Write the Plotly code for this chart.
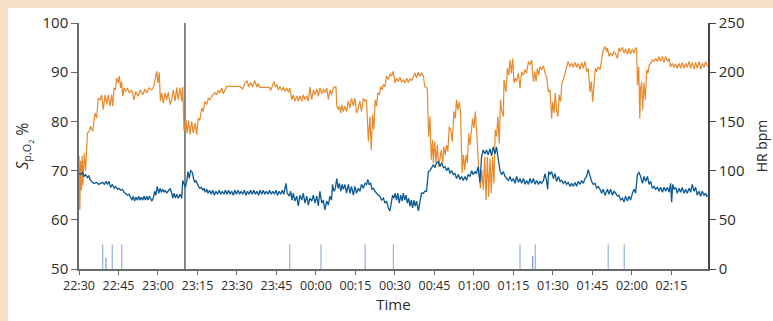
import pandas as pd
import plotly.graph_objects as go

# ---- data (minutes after 22:30) ----
spo2_t = [0.0, 0.3, 0.6, 0.9, 1.2, 1.5, 2.0, 2.5, 3.2, 3.9, 4.4, 5.2, 6.1, 6.7, 7.3, 8.0, 8.6, 9.2, 9.9, 10.5,
          11.1, 11.8, 12.4, 12.8, 13.3, 13.8, 14.3, 14.9, 15.3, 15.8, 16.2, 16.6, 17.1, 17.7, 18.4, 19.1, 20.0, 20.9, 21.6, 22.5,
          23.2, 24.2, 25.1, 25.7, 26.7, 27.6, 28.5, 29.0, 29.5, 30.0, 30.5, 30.9, 31.4, 32.0, 32.7, 33.3, 33.9, 34.6, 35.2, 35.8,
          36.5, 37.1, 37.7, 38.4, 39.0, 39.4, 39.9, 40.6, 41.1, 41.6, 42.2, 42.8, 43.4, 44.1, 44.7, 45.3, 45.9, 46.6, 47.2, 47.8,
          48.5, 49.1, 49.7, 50.4, 51.0, 51.6, 52.3, 52.9, 53.5, 54.2, 54.8, 55.4, 56.1, 61.1, 62.2, 63.0, 63.9, 64.4, 65.2, 65.9,
          66.8, 67.5, 68.1, 68.7, 72.3, 72.8, 73.5, 74.1, 74.6, 75.1, 75.7, 76.3, 77.0, 77.6, 78.2, 78.9, 79.5, 80.1, 80.8, 81.4,
          82.0, 82.7, 83.3, 83.9, 84.6, 85.2, 85.8, 86.5, 87.1, 87.7, 88.4, 89.0, 89.6, 90.3, 90.9, 91.5, 92.2, 92.8, 93.4, 94.1,
          94.7, 95.3, 95.9, 96.6, 97.2, 97.6, 97.9, 98.5, 98.9, 99.4, 99.9, 100.4, 101.0, 101.6, 102.3, 102.9, 103.5, 104.2, 104.8, 105.4,
          106.1, 106.7, 107.3, 108.0, 108.6, 109.2, 109.9, 110.5, 111.0, 111.5, 112.0, 112.5, 113.0, 113.5, 114.1, 114.6, 115.1, 115.6, 116.2, 116.8,
          117.5, 118.1, 118.7, 119.4, 120.0, 120.6, 121.3, 121.9, 122.5, 123.2, 123.8, 124.4, 125.1, 125.7, 126.3, 127.0, 127.6, 128.2, 128.9, 129.5,
          130.1, 130.8, 131.3, 132.3, 132.8, 133.3, 133.8, 134.3, 134.6, 135.1, 135.6, 136.1, 136.6, 137.1, 137.6, 138.1, 138.6, 139.1, 139.6, 140.1,
          140.6, 141.2, 141.8, 142.4, 142.9, 143.4, 143.9, 144.4, 144.9, 145.5, 146.0, 146.5, 147.0, 147.5, 148.0, 148.5, 149.0, 149.5, 150.0, 150.5,
          151.0, 151.5, 152.0, 152.5, 153.0, 153.6, 154.1, 154.6, 155.1, 155.6, 156.1, 156.6, 157.1, 157.6, 158.1, 158.6, 159.1, 159.6, 160.1, 160.5,
          161.2, 161.4, 162.2, 162.7, 163.2, 163.7, 164.2, 164.7, 165.2, 165.7, 166.2, 166.9, 167.5, 168.1, 168.8, 169.4, 170.0, 170.7, 171.3, 171.9,
          172.6, 173.1, 173.6, 174.1, 174.6, 175.1, 175.7, 176.4, 177.0, 177.6, 178.3, 178.9, 179.5, 179.9, 180.4, 180.9, 181.4, 181.9, 182.4, 182.9,
          183.4, 183.9, 184.6, 185.2, 185.8, 186.5, 187.1, 187.7, 188.4, 189.0, 189.6, 190.3, 190.9, 191.5, 192.2, 192.8, 193.4, 194.1, 194.6, 195.1,
          195.6, 196.1, 196.6, 197.2, 197.9, 198.5, 199.1, 199.8, 200.4, 200.7, 201.3, 201.9, 202.6, 203.2, 203.8, 204.5, 205.1, 205.7, 206.4, 207.0,
          207.6, 208.3, 208.9, 209.5, 210.2, 210.8, 211.4, 211.8, 212.1, 212.6, 213.0, 213.3, 213.7, 214.1, 214.6, 215.1, 215.6, 216.1, 216.6, 217.1,
          217.8, 218.4, 219.0, 219.7, 220.3, 220.9, 221.6, 222.2, 222.8, 223.5, 224.1, 224.7, 225.4, 226.0, 226.6, 227.2, 227.9, 228.5, 229.1, 229.8,
          230.4, 231.0, 231.7, 232.3, 232.9, 233.6, 234.2, 234.8, 235.5, 236.1, 236.7, 237.4, 238.0, 238.4, 238.9]
spo2_v = [73.0, 62.0, 72.0, 66.0, 73.0, 67.0, 73.5, 70.0, 77.6, 78.0, 79.0, 78.0, 81.7, 80.7, 84.7, 84.4, 85.4, 82.4, 85.4, 83.4,
          85.4, 83.1, 85.4, 83.1, 86.8, 86.4, 88.8, 87.8, 89.2, 86.8, 88.1, 85.1, 86.8, 86.1, 86.8, 85.8, 86.4, 84.4, 86.1, 85.1,
          86.4, 85.4, 86.6, 85.8, 86.8, 86.4, 87.3, 88.5, 90.2, 87.8, 90.0, 84.1, 85.8, 83.7, 85.8, 84.4, 85.9, 83.4, 84.4, 86.4,
          84.1, 86.9, 84.4, 86.8, 84.1, 87.0, 78.0, 80.3, 77.6, 80.2, 77.3, 80.0, 77.6, 79.7, 77.3, 80.7, 80.2, 82.7, 82.0, 84.1,
          83.4, 84.7, 84.4, 85.1, 85.4, 85.9, 85.4, 86.4, 85.8, 86.8, 85.6, 86.4, 87.1, 87.1, 86.6, 87.8, 88.3, 87.0, 87.9, 87.0,
          88.3, 87.0, 87.7, 86.9, 86.9, 86.3, 87.5, 88.1, 87.0, 87.5, 86.4, 87.1, 86.3, 87.0, 86.1, 86.8, 85.9, 86.8, 84.4, 85.4,
          84.1, 85.2, 84.1, 85.2, 84.1, 85.4, 84.4, 85.2, 84.1, 87.0, 84.4, 86.4, 85.4, 86.6, 85.1, 86.8, 85.6, 86.6, 85.8, 86.8,
          84.4, 86.4, 85.4, 86.8, 87.0, 87.0, 83.1, 82.4, 83.2, 81.7, 83.4, 82.0, 83.1, 82.0, 84.1, 82.7, 84.7, 83.1, 84.7, 81.7,
          82.7, 84.1, 82.0, 84.7, 84.1, 84.4, 75.9, 81.0, 74.2, 81.4, 78.3, 84.4, 83.1, 85.8, 85.4, 87.1, 86.4, 87.5, 87.0, 89.2,
          88.5, 89.7, 89.2, 90.2, 87.8, 88.8, 88.1, 89.0, 87.9, 88.5, 87.8, 88.8, 87.9, 88.6, 88.3, 89.0, 89.8, 88.8, 90.0, 89.2,
          89.8, 89.3, 87.1, 86.7, 76.9, 81.0, 72.2, 76.2, 71.5, 75.9, 71.5, 75.2, 70.8, 72.5, 74.2, 71.5, 74.9, 73.2, 75.2, 73.9,
          78.9, 78.3, 75.9, 82.0, 80.6, 84.4, 82.3, 84.0, 82.0, 69.5, 73.2, 70.1, 73.2, 71.5, 77.6, 75.2, 77.6, 80.6, 78.6, 82.0,
          78.3, 71.8, 68.8, 66.4, 70.1, 66.1, 72.8, 64.0, 72.8, 64.7, 72.5, 65.4, 72.8, 67.4, 78.3, 76.9, 81.0, 75.5, 84.4, 82.3,
          81.0, 88.4, 86.0, 90.8, 89.4, 92.5, 89.8, 92.8, 87.8, 88.8, 88.1, 89.8, 86.7, 90.1, 89.4, 90.5, 89.8, 92.2, 91.5, 92.5,
          88.1, 90.1, 88.1, 90.8, 89.4, 91.1, 90.5, 91.3, 89.8, 89.1, 86.0, 86.4, 80.6, 84.0, 81.7, 85.7, 82.3, 81.0, 85.4, 84.0,
          87.8, 88.4, 89.8, 90.8, 92.2, 91.1, 91.8, 91.0, 92.0, 91.0, 91.8, 90.6, 92.0, 90.8, 92.2, 90.1, 90.8, 86.0, 88.1, 84.0,
          88.4, 90.8, 90.1, 91.1, 90.5, 92.8, 94.5, 95.2, 94.2, 94.9, 93.2, 93.9, 93.3, 94.2, 93.7, 92.8, 94.9, 94.2, 95.1, 93.9,
          94.7, 93.7, 94.9, 93.7, 94.7, 93.9, 94.9, 94.9, 87.4, 91.1, 80.6, 86.7, 88.1, 82.3, 87.8, 84.4, 90.5, 89.8, 91.5, 91.8,
          92.5, 92.2, 92.8, 92.2, 93.2, 92.2, 93.2, 92.0, 93.2, 92.2, 92.8, 91.1, 91.8, 91.0, 91.7, 90.8, 91.8, 90.8, 92.0, 90.8,
          91.8, 91.0, 92.2, 90.8, 92.0, 90.6, 92.0, 90.8, 92.2, 90.6, 91.8, 91.0, 92.2, 91.5, 91.2]

hr_t = [0.0, 0.6, 1.4, 1.9, 2.5, 3.2, 3.7, 4.2, 4.8, 5.7, 6.7, 7.5, 8.2, 9.0, 9.6, 10.3, 10.8, 11.4, 12.0, 12.7,
        13.3, 13.9, 14.6, 15.2, 15.8, 16.5, 17.1, 17.7, 18.4, 19.0, 19.6, 20.1, 20.6, 21.1, 21.6, 22.2, 22.7, 23.2, 23.7, 24.2,
        24.7, 25.2, 25.7, 26.2, 26.7, 27.2, 27.7, 28.2, 28.7, 29.2, 29.7, 30.3, 30.8, 31.3, 31.8, 32.3, 32.8, 33.3, 33.9, 34.6,
        35.2, 35.6, 36.1, 36.6, 37.1, 37.7, 38.4, 39.0, 39.4, 39.9, 40.4, 40.9, 41.4, 41.9, 42.4, 42.9, 43.4, 43.9, 44.4, 44.9,
        45.4, 45.9, 46.5, 47.0, 47.5, 48.0, 48.5, 49.0, 49.6, 50.2, 50.8, 51.4, 52.0, 52.6, 53.2, 53.8, 54.4, 55.0, 55.6, 56.2,
        56.8, 57.4, 58.0, 58.6, 59.2, 59.8, 60.4, 61.0, 61.6, 62.2, 62.8, 63.4, 64.0, 64.6, 65.2, 65.8, 66.4, 67.0, 67.6, 68.2,
        68.8, 69.4, 70.0, 70.6, 71.2, 71.8, 72.4, 73.0, 73.6, 74.2, 74.8, 75.4, 76.0, 76.6, 77.2, 77.8, 78.6, 79.1, 79.9, 80.4,
        80.9, 81.4, 82.0, 82.7, 83.3, 83.9, 84.6, 85.2, 85.8, 86.5, 87.1, 87.7, 88.4, 89.0, 89.6, 90.3, 90.9, 91.5, 92.2, 92.8,
        93.4, 94.1, 94.7, 95.3, 95.9, 96.3, 96.8, 97.3, 97.9, 98.4, 98.9, 99.4, 99.9, 100.4, 101.0, 101.6, 102.3, 102.9, 103.5, 104.2,
        104.8, 105.4, 106.1, 106.7, 107.3, 108.0, 108.6, 109.2, 109.7, 110.2, 110.8, 111.3, 111.8, 112.4, 113.0, 113.7, 114.3, 114.9, 115.6, 116.2,
        116.8, 117.5, 118.1, 118.6, 119.1, 119.6, 120.1, 120.6, 121.1, 121.6, 122.2, 122.7, 123.2, 123.7, 124.2, 124.7, 125.2, 125.7, 126.2, 126.7,
        127.2, 127.7, 128.2, 128.9, 129.5, 130.1, 130.8, 131.4, 132.0, 132.7, 133.3, 133.9, 134.6, 135.2, 135.8, 136.5, 137.1, 137.7, 138.4, 139.0,
        139.6, 140.3, 140.9, 141.5, 142.2, 142.8, 143.4, 144.1, 144.7, 145.3, 145.9, 146.6, 147.2, 147.8, 148.5, 149.1, 149.7, 150.4, 151.0, 151.6,
        152.3, 152.9, 153.5, 154.2, 154.8, 155.4, 156.1, 156.7, 157.3, 158.0, 158.6, 159.1, 159.9, 160.5, 161.2, 161.8, 162.4, 163.1, 163.7, 164.3,
        165.0, 165.6, 166.2, 166.9, 167.5, 168.1, 168.8, 169.4, 170.0, 170.7, 171.3, 171.9, 172.6, 173.2, 173.8, 174.5, 175.1, 175.7, 176.4, 177.0,
        177.6, 178.0, 178.4, 178.9, 179.5, 180.2, 180.8, 181.4, 182.1, 182.7, 183.3, 183.9, 184.6, 185.2, 185.8, 186.5, 187.1, 187.7, 188.4, 189.0,
        189.6, 190.3, 190.9, 191.5, 192.2, 192.8, 193.4, 194.1, 194.7, 195.3, 196.0, 196.6, 197.2, 197.9, 198.5, 199.1, 199.8, 200.4, 200.7, 201.3,
        201.9, 202.6, 203.2, 203.8, 204.5, 205.1, 205.7, 206.4, 207.0, 207.6, 208.3, 208.9, 209.5, 210.2, 210.8, 211.4, 212.1, 212.7, 213.3, 214.0,
        214.6, 215.2, 215.9, 216.5, 217.1, 217.8, 218.4, 219.0, 219.7, 220.3, 220.9, 221.6, 222.2, 222.8, 223.5, 224.1, 224.7, 225.1, 225.5, 226.0,
        226.6, 227.2, 227.9, 228.5, 229.1, 229.8, 230.4, 231.0, 231.7, 232.3, 232.9, 233.6, 234.2, 234.8, 235.5, 236.1, 236.7, 237.4, 238.0, 238.4,
        238.9]
hr_v = [97, 96, 98, 94, 96, 93, 95, 91, 89, 87, 88, 86, 87, 88, 86, 89, 86, 89, 83, 86,
        82, 84, 81, 82, 80, 81, 78, 77, 75, 76, 73, 70, 74, 69, 73, 70, 74, 70, 73, 70,
        74, 70, 74, 70, 74, 71, 69, 72, 79, 75, 84, 77, 82, 78, 81, 78, 80, 77, 80, 82,
        77, 72, 77, 72, 76, 72, 76, 72, 90, 87, 83, 89, 99, 92, 100, 99, 94, 88, 90, 86,
        84, 82, 83, 80, 82, 78, 81, 77, 80, 76, 80, 75, 79, 76, 80, 76, 79, 76, 80, 76,
        80, 76, 79, 75, 80, 76, 80, 76, 79, 76, 80, 75, 79, 76, 80, 76, 80, 76, 79, 75,
        80, 76, 80, 76, 79, 76, 80, 76, 79, 76, 80, 75, 79, 76, 80, 76, 87, 77, 74, 79,
        70, 77, 69, 74, 64, 75, 70, 77, 67, 74, 65, 72, 69, 75, 67, 74, 64, 79, 67, 70,
        60, 69, 65, 74, 70, 86, 79, 81, 92, 82, 87, 79, 86, 81, 86, 77, 86, 77, 84, 75,
        84, 77, 82, 79, 86, 82, 87, 86, 91, 86, 87, 81, 82, 79, 77, 75, 74, 70, 72, 67,
        69, 62, 59, 67, 75, 72, 77, 70, 77, 67, 75, 69, 77, 70, 75, 67, 72, 64, 70, 62,
        70, 64, 69, 59, 69, 77, 77, 79, 79, 99, 100, 103, 106, 103, 108, 109, 104, 108, 103, 104,
        100, 103, 97, 100, 96, 97, 92, 96, 91, 94, 90, 94, 90, 96, 94, 100, 96, 99, 97, 104,
        88, 114, 121, 117, 121, 116, 122, 115, 124, 117, 124, 114, 100, 96, 99, 94, 92, 90, 94, 89,
        92, 87, 94, 88, 92, 87, 92, 86, 90, 86, 92, 87, 92, 86, 90, 86, 89, 87, 90, 97,
        89, 81, 99, 96, 99, 92, 97, 89, 94, 89, 90, 87, 89, 86, 88, 84, 87, 84, 88, 84,
        89, 86, 90, 87, 92, 94, 101, 94, 89, 86, 87, 82, 84, 81, 77, 81, 75, 79, 81, 76,
        81, 75, 79, 77, 74, 75, 70, 72, 68, 74, 69, 74, 70, 77, 81, 77, 96, 98, 94, 87,
        94, 89, 94, 86, 89, 82, 84, 81, 83, 79, 83, 78, 83, 79, 83, 78, 87, 68, 86, 81,
        83, 77, 82, 78, 83, 77, 81, 77, 82, 78, 86, 79, 83, 75, 79, 74, 79, 75, 77, 74,
        75]

# scored events (minutes after 22:30) and bar heights in bpm
event_t = [9.0, 12.65, 16.2, 80.0, 91.9, 108.7, 119.4, 167.5, 173.3, 201.0, 207.1]
event_h = [25, 25, 25, 25, 25, 25, 25, 25, 25, 25, 25]
short_event_t = [10.25, 172.3]
short_event_h = [11.5, 13.5]
marker_t = 40.25  # vertical marker line

x_range_min = [0, 238.9]
x_tick_min = list(range(0, 226, 15))

base = pd.Timestamp("2021-01-01 22:30:00")


def to_time(mins):
    return list(base + pd.to_timedelta(mins, unit="min"))


fig = go.Figure()

ev_x, ev_y = [], []
for t, h in zip(event_t, event_h):
    tt = to_time([t])[0]
    ev_x += [tt, tt, None]
    ev_y += [0, h, None]
fig.add_trace(go.Scatter(x=ev_x, y=ev_y, mode="lines", yaxis="y2",
                         line=dict(color="#9db7dd", width=1.3), hoverinfo="skip", showlegend=False))
sx, sy = [], []
for t, h in zip(short_event_t, short_event_h):
    tt = to_time([t])[0]
    sx += [tt, tt, None]
    sy += [0, h, None]
fig.add_trace(go.Scatter(x=sx, y=sy, mode="lines", yaxis="y2",
                         line=dict(color="#7c98c8", width=1.2), hoverinfo="skip", showlegend=False))

mt = to_time([marker_t])[0]
fig.add_trace(go.Scatter(x=[mt, mt], y=[50, 100], mode="lines",
                         line=dict(color="#3a3a3a", width=1.2), hoverinfo="skip", showlegend=False))

fig.add_trace(go.Scatter(x=to_time(hr_t), y=hr_v, mode="lines", yaxis="y2", name="HR",
                         line=dict(color="#0b5a94", width=1.3), showlegend=False))
fig.add_trace(go.Scatter(x=to_time(spo2_t), y=spo2_v, mode="lines", name="SpO2",
                         line=dict(color="#e9892a", width=1.2), showlegend=False))

L, R, T, B = 79, 65, 23, 52
W, H = 773, 321
pw, ph = W - L - R, H - T - B
peach = "#f9e1c9"
fig.add_shape(type="rect", xref="paper", yref="paper", layer="below",
              x0=(8 - L) / pw, x1=(W + 5 - L) / pw, y0=-(B + 5) / ph, y1=(H - B - 8) / ph,
              fillcolor="white", line=dict(width=0))

font = "Open Sans"
axcol = "#6a6a6a"
tickvals = to_time(x_tick_min)
fig.update_layout(
    width=W, height=H,
    margin=dict(l=L, r=R, t=T, b=B, autoexpand=False),
    paper_bgcolor=peach, plot_bgcolor="white",
    font=dict(family=font, color="#2b2b2b"),
    showlegend=False,
    xaxis=dict(range=to_time(x_range_min), tickvals=tickvals, tickformat="%H:%M", automargin=False,
               showgrid=False, zeroline=False, showline=True, linecolor=axcol, linewidth=1.5,
               ticks="outside", ticklen=4, tickcolor=axcol, tickwidth=1.2,
               tickfont=dict(size=12.5, family=font, color="#2b2b2b"),
               title=dict(text="Time", font=dict(size=15, family=font), standoff=2)),
    yaxis=dict(range=[50, 100], tickvals=[50, 60, 70, 80, 90, 100], automargin=False,
               showgrid=False, zeroline=False, showline=True, linecolor=axcol, linewidth=1.5,
               ticks="outside", ticklen=6, tickcolor=axcol, tickwidth=1.2,
               tickfont=dict(size=15, family=font, color="#2b2b2b"),
               title=dict(text="<i>S</i><sub>p,O<sub>2</sub></sub> %", font=dict(size=15.5, family=font), standoff=10)),
    yaxis2=dict(range=[0, 250], tickvals=[0, 50, 100, 150, 200, 250], overlaying="y", side="right",
                automargin=False,
                showgrid=False, zeroline=False, showline=True, linecolor="#444444", linewidth=1.5,
                ticks="outside", ticklen=6, tickcolor="#444444", tickwidth=1.2,
                tickfont=dict(size=15, family=font, color="#2b2b2b"),
                title=dict(text="HR bpm", font=dict(size=14, family=font), standoff=14)),
)

fig.write_html("out.html", config={"displayModeBar": False},
               post_script="document.body.style.margin='0';")
